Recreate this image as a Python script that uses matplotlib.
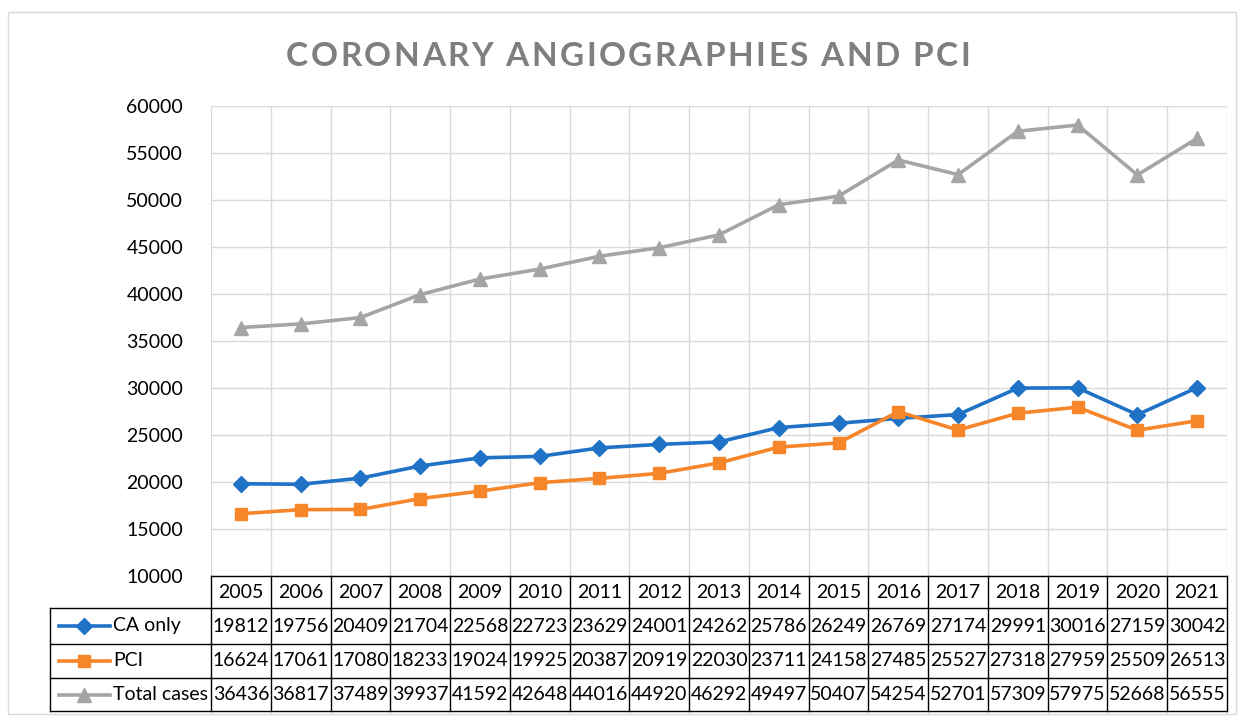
import matplotlib.pyplot as plt
from matplotlib.patches import Rectangle
from matplotlib.lines import Line2D
import matplotlib.transforms as mtransforms

years = list(range(2005, 2022))
ca_only = [19812, 19756, 20409, 21704, 22568, 22723, 23629, 24001, 24262,
           25786, 26249, 26769, 27174, 29991, 30016, 27159, 30042]
pci = [16624, 17061, 17080, 18233, 19024, 19925, 20387, 20919, 22030,
       23711, 24158, 27485, 25527, 27318, 27959, 25509, 26513]
total = [36436, 36817, 37489, 39937, 41592, 42648, 44016, 44920, 46292,
         49497, 50407, 54254, 52701, 57309, 57975, 52668, 56555]

series = [
    ("CA only", ca_only, "#1f72c6", "D", 8),
    ("PCI", pci, "#f7852a", "s", 9),
    ("Total cases", total, "#a5a5a5", "^", 10),
]
title = "CORONARY ANGIOGRAPHIES AND PCI"

plt.rcParams["font.family"] = ["Lato", "DejaVu Sans"]

W, H = 1239, 718
fig = plt.figure(figsize=(W / 100, H / 100), dpi=100)

# plot area in pixels
left, right, top, bottom = 211, 1227, 106, 576
ax = fig.add_axes([left / W, 1 - bottom / H, (right - left) / W, (bottom - top) / H])

x = list(range(len(years)))
for name, vals, color, marker, ms in series:
    ax.plot(x, vals, color=color, lw=2.6, marker=marker, ms=ms,
            markeredgecolor=color, zorder=3)

ax.set_xlim(-0.5, len(years) - 0.5)
ax.set_ylim(10000, 60000)
ax.set_yticks(range(10000, 60001, 5000))
ax.tick_params(axis="y", length=0, pad=20, labelsize=14)
ax.set_xticks([i + 0.5 for i in range(-1, len(years))])
ax.tick_params(axis="x", length=0, labelbottom=False)
ax.grid(True, color="#d9d9d9", lw=1.0)
for s in ax.spines.values():
    s.set_visible(False)

# data table below the plot
trans = mtransforms.blended_transform_factory(ax.transData, ax.transAxes)
ph = bottom - top
row_edges_px = [576, 608, 644, 678, 711]
row_edges = [(bottom - p) / ph for p in row_edges_px]
col_px = (right - left) / len(years)
leg_left = -0.5 - (left - 50) / col_px
n = len(years)

lkw = dict(color="black", lw=1.0, transform=trans, clip_on=False)
ax.add_line(Line2D([-0.5, n - 0.5], [row_edges[0]] * 2, **lkw))
for i in range(n + 1):
    ax.add_line(Line2D([i - 0.5] * 2, [row_edges[0], row_edges[-1]], **lkw))
for r in row_edges[1:]:
    ax.add_line(Line2D([leg_left, n - 0.5], [r, r], **lkw))
ax.add_line(Line2D([leg_left] * 2, [row_edges[1], row_edges[-1]], **lkw))

tkw = dict(transform=trans, clip_on=False, fontsize=14, va="center")
ymid = (row_edges[0] + row_edges[1]) / 2
for i, yr in enumerate(years):
    ax.text(i, ymid, str(yr), ha="center", **tkw)

for k, (name, vals, color, marker, ms) in enumerate(series):
    yc = (row_edges[k + 1] + row_edges[k + 2]) / 2
    for i, v in enumerate(vals):
        ax.text(i, yc, str(v), ha="center", **tkw)
    ax.add_line(Line2D([leg_left + 0.15, leg_left + 1.0], [yc, yc], color=color,
                       lw=2.6, transform=trans, clip_on=False))
    ax.add_line(Line2D([leg_left + 0.575], [yc], color=color, marker=marker,
                       ms=ms, transform=trans, clip_on=False))
    ax.text(leg_left + 1.05, yc, name, ha="left", **tkw)

# title with wide letter spacing, laid out char by char
renderer = fig.canvas.get_renderer()
tt_kw = dict(fontsize=24, fontweight="bold", color="#7f7f7f", va="baseline")
t_left, t_right, t_base = 286, 970, 66
widths = []
for ch in title:
    t = fig.text(0, 0, "n", **tt_kw)
    wn = t.get_window_extent(renderer).width
    t.set_text(ch)
    widths.append(t.get_window_extent(renderer).width if ch != " " else 0.4 * wn)
    t.remove()
gap = (t_right - t_left - sum(widths)) / (len(title) - 1)
xpos = t_left
for ch, w in zip(title, widths):
    if ch != " ":
        fig.text(xpos / W, 1 - t_base / H, ch, **tt_kw)
    xpos += w + gap

fig.patches.append(Rectangle((8 / W, 1 - 714 / H), (1236 - 8) / W, (714 - 12) / H,
                             transform=fig.transFigure, fill=False,
                             edgecolor="#d9d9d9", lw=1.0))

fig.savefig("out.png", dpi=100)
